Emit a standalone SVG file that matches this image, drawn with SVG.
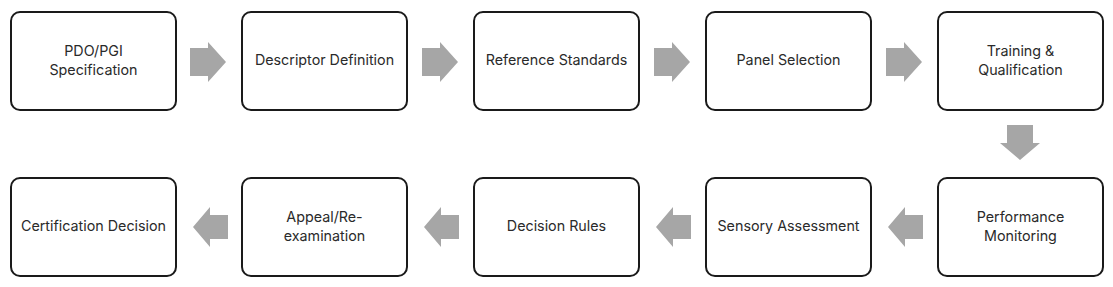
<svg xmlns="http://www.w3.org/2000/svg" width="1113" height="287" viewBox="0 0 1113 287">
<defs>
<style>
.box{fill:#fff;stroke:#1a1a1a;stroke-width:2}
.t{font-family:"Inter","Liberation Sans",sans-serif;font-size:14.3px;fill:#2a2a2a;text-anchor:middle}
.arr{fill:#a6a6a6}
</style>
<path id="ra" d="M0,-14 L18,-14 L18,-20 L36,0 L18,20 L18,14 L0,14 Z"/>
<path id="la" d="M35,-12 L17,-12 L17,-20 L0,0 L17,20 L17,12 L35,12 Z"/>
</defs>
<rect width="1113" height="287" fill="#fff"/>
<g id="connectors" class="arr">
<use href="#ra" x="190" y="62"/>
<use href="#ra" x="422" y="62"/>
<use href="#ra" x="654" y="62"/>
<use href="#ra" x="886" y="62"/>
<path d="M1007,125 L1033,125 L1033,143 L1040,143 L1020,160 L1000,143 L1007,143 Z"/>
<use href="#la" x="888" y="227"/>
<use href="#la" x="656" y="227"/>
<use href="#la" x="424" y="227"/>
<use href="#la" x="193" y="227"/>
</g>
<g id="n1"><rect class="box" x="11" y="12" width="165" height="98" rx="9"/><text class="t" x="93.5" y="56">PDO/PGI</text><text class="t" x="93.5" y="75">Specification</text></g>
<g id="n2"><rect class="box" x="242" y="12" width="165" height="98" rx="9"/><text class="t" x="324.5" y="65">Descriptor Definition</text></g>
<g id="n3"><rect class="box" x="474" y="12" width="165" height="98" rx="9"/><text class="t" x="556.5" y="65">Reference Standards</text></g>
<g id="n4"><rect class="box" x="706" y="12" width="165" height="98" rx="9"/><text class="t" x="788.5" y="65">Panel Selection</text></g>
<g id="n5"><rect class="box" x="938" y="12" width="165" height="98" rx="9"/><text class="t" x="1020.5" y="56">Training &amp;</text><text class="t" x="1020.5" y="75">Qualification</text></g>
<g id="n6"><rect class="box" x="938" y="178" width="165" height="98" rx="9"/><text class="t" x="1020.5" y="222">Performance</text><text class="t" x="1020.5" y="241">Monitoring</text></g>
<g id="n7"><rect class="box" x="706" y="178" width="165" height="98" rx="9"/><text class="t" x="788.5" y="231">Sensory Assessment</text></g>
<g id="n8"><rect class="box" x="474" y="178" width="165" height="98" rx="9"/><text class="t" x="556.5" y="231">Decision Rules</text></g>
<g id="n9"><rect class="box" x="242" y="178" width="165" height="98" rx="9"/><text class="t" x="324.5" y="222">Appeal/Re-</text><text class="t" x="324.5" y="241">examination</text></g>
<g id="n10"><rect class="box" x="11" y="178" width="165" height="98" rx="9"/><text class="t" x="93.5" y="231">Certification Decision</text></g>
</svg>
